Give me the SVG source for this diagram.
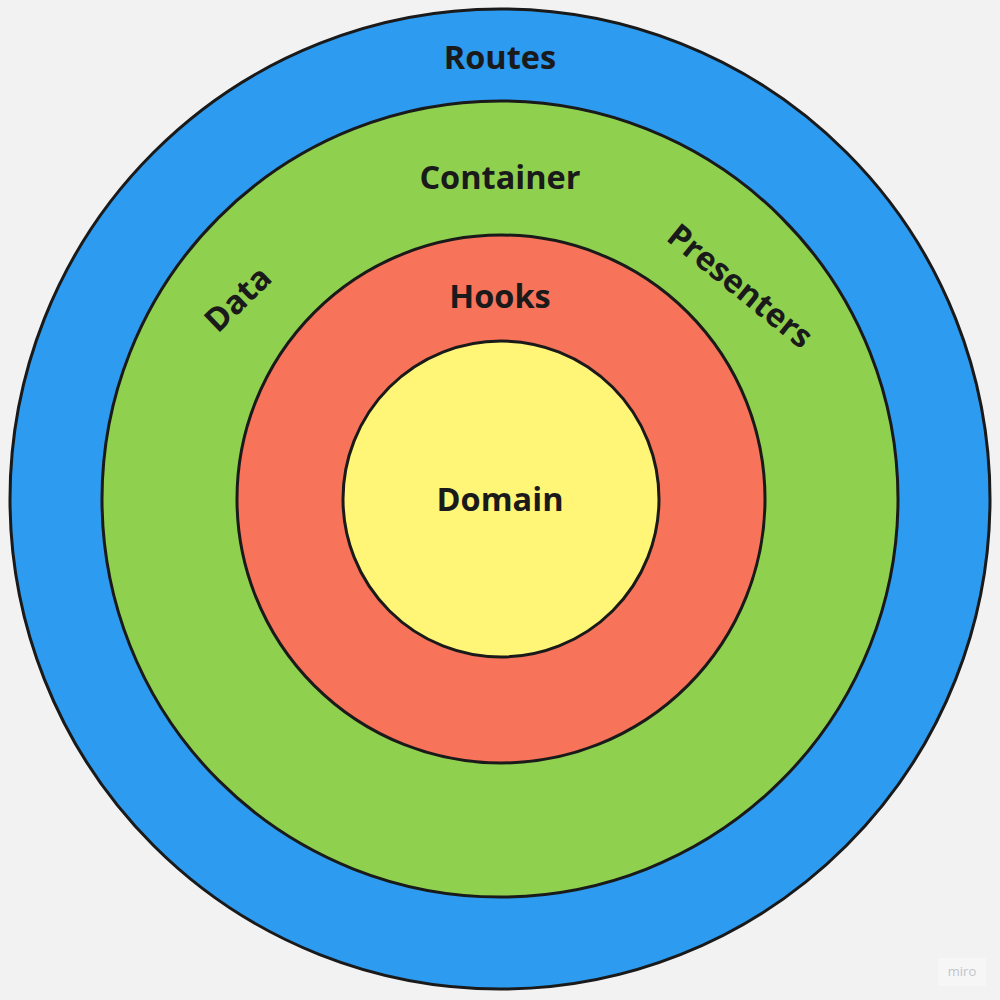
<svg xmlns="http://www.w3.org/2000/svg" width="1000" height="1000" viewBox="0 0 1000 1000">
  <style>
    .ring { stroke: #1a1a1a; stroke-width: 3; }
    .label { font-family: "Open Sans", "Noto Sans", sans-serif; font-weight: 700; font-size: 32.5px; fill: #1a1a1a; text-anchor: middle; dominant-baseline: central; }
  </style>
  <rect width="1000" height="1000" fill="#f2f2f2"/>
  <g id="routes">
    <circle class="ring" cx="500" cy="499" r="490" fill="#2d9bf0"/>
    <text class="label" x="500" y="56">Routes</text>
  </g>
  <g id="container">
    <circle class="ring" cx="500" cy="499" r="398" fill="#8fd14f"/>
    <text class="label" x="500" y="176">Container</text>
    <text class="label" transform="translate(237 298) rotate(-44)">Data</text>
    <text class="label" transform="translate(741 285) rotate(39)">Presenters</text>
  </g>
  <g id="hooks">
    <circle class="ring" cx="501" cy="499" r="264" fill="#f7735a"/>
    <text class="label" x="500" y="295">Hooks</text>
  </g>
  <g id="domain">
    <circle class="ring" cx="501" cy="499" r="158" fill="#fff576"/>
    <text class="label" x="500" y="498">Domain</text>
  </g>
  <g id="watermark">
    <rect x="938" y="958" width="48" height="28" fill="#f6f6f6"/>
    <text x="962" y="976" font-family="Open Sans, sans-serif" font-size="13" fill="#c4c4cc" text-anchor="middle">miro</text>
  </g>
</svg>
